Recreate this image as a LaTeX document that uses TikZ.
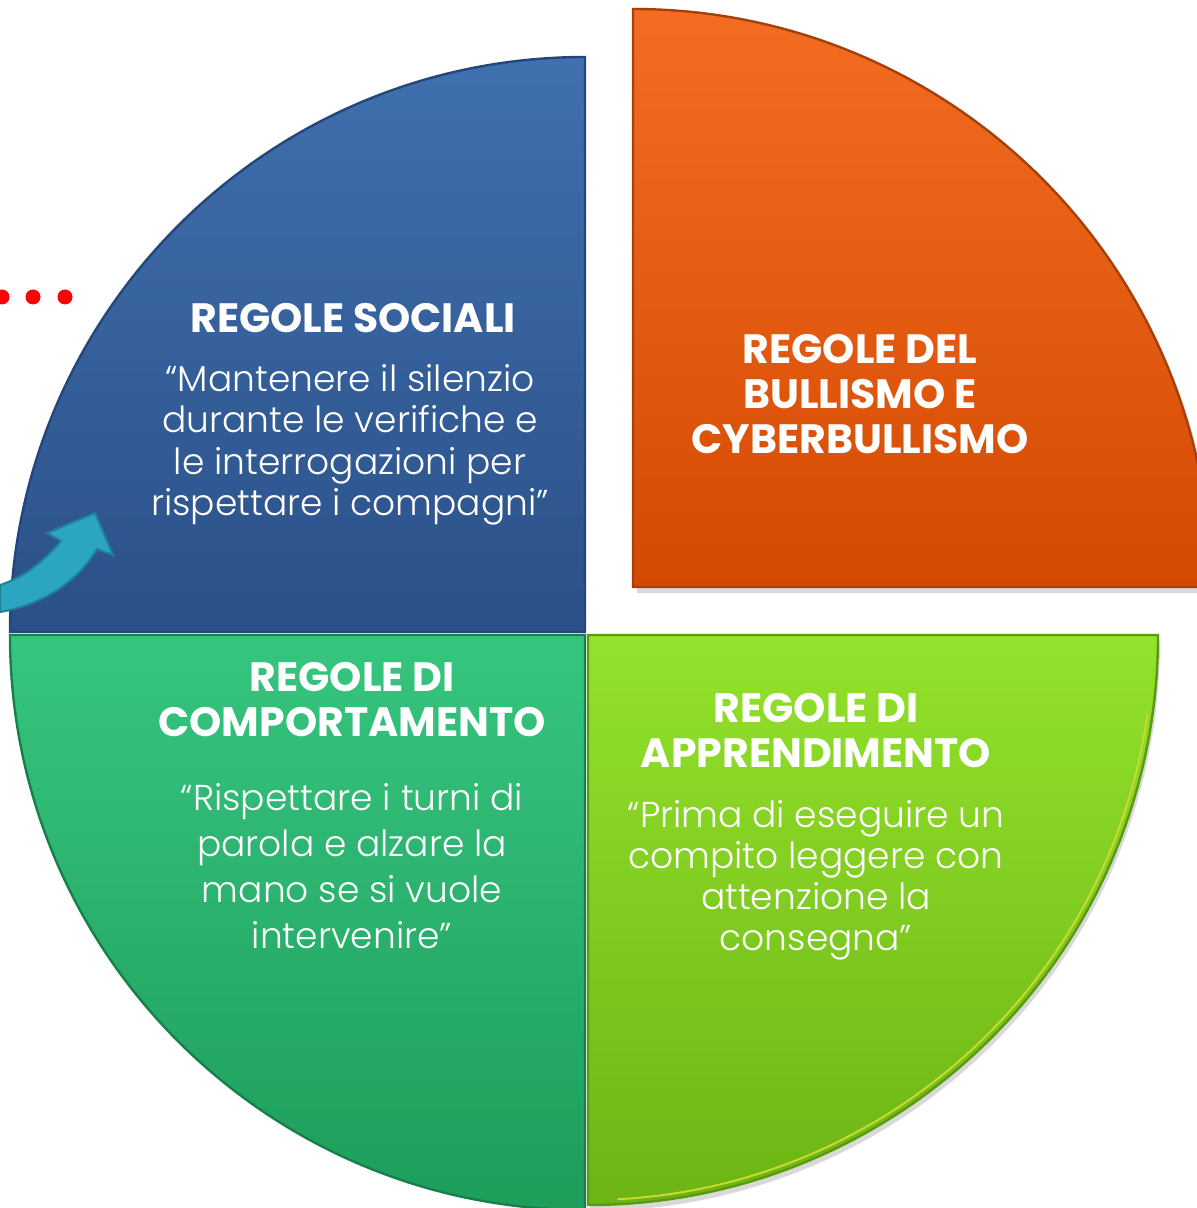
\documentclass[tikz,border=0pt]{standalone}
\usepackage{fontspec}
\setmainfont{Poppins}
\newfontfamily\quotefont{Poppins Light}[Ligatures=TeX]
\usetikzlibrary{shadows}
\definecolor{soctop}{HTML}{4070AE}
\definecolor{socbot}{HTML}{2B5088}
\definecolor{socline}{HTML}{25467A}
\definecolor{bultop}{HTML}{F46C22}
\definecolor{bulbot}{HTML}{D44A02}
\definecolor{bulline}{HTML}{A63F0A}
\definecolor{comtop}{HTML}{36C57F}
\definecolor{combot}{HTML}{1E9D5B}
\definecolor{comline}{HTML}{17804A}
\definecolor{apptop}{HTML}{93E22C}
\definecolor{appbot}{HTML}{6CB414}
\definecolor{appline}{HTML}{5A9A10}
\definecolor{arrowfill}{HTML}{2CA5C0}
\definecolor{arrowline}{HTML}{1F8199}

\begin{document}
\begin{tikzpicture}[x=0.5pt,y=-0.5pt,
  sector/.style={line width=1.2pt},
  title/.style={text=white,align=center,font=\bfseries\fontsize{20.5}{22.5}\selectfont},
  quote/.style={text=white,align=center,font=\quotefont\fontsize{18}{20.75}\selectfont}]
  \useasboundingbox (0,0) rectangle (1196,1208);
  % quadrants
  \draw[sector,draw=bulline,top color=bultop,bottom color=bulbot,
    drop shadow={shadow xshift=2pt,shadow yshift=-3pt,opacity=0.3}]
    (633,587) -- ++(0:578) arc[start angle=0,end angle=-90,radius=578] -- cycle;
  \draw[sector,draw=socline,top color=soctop,bottom color=socbot]
    (585,632) -- ++(180:575) arc[start angle=180,end angle=270,radius=575] -- cycle;
  \draw[sector,draw=comline,top color=comtop,bottom color=combot]
    (585,635) -- ++(180:575) arc[start angle=180,end angle=90,radius=575] -- cycle;
  \draw[sector,draw=appline,top color=apptop,bottom color=appbot,
    drop shadow={shadow xshift=1pt,shadow yshift=-3pt,opacity=0.3}]
    (588,635) -- ++(0:570) arc[start angle=0,end angle=90,radius=570] -- cycle;
  \draw[line width=1pt,draw=yellow!45!apptop] (588,635) ++(8:565) arc[start angle=8,end angle=87,radius=565];

  % dots and arrow
  \foreach \x in {2,33,65}
    \fill[red] (\x,297) circle (7.5);
  \draw[line width=1pt,draw=arrowline,fill=arrowfill]
    (0,585) .. controls (25,577) and (45,560) .. (61,541) -- (47,533) -- (95,513)
    -- (113,555) -- (97,549) .. controls (75,585) and (40,605) .. (0,612) -- cycle;

  \node (soc) at (353,318) [title] {REGOLE SOCIALI};
  \node (socq) at (350,445) [quote] {“Mantenere il silenzio\\durante le verifiche e\\le interrogazioni per\\rispettare i compagni”};
  \node (bul) at (860,394) [title] {REGOLE DEL\\BULLISMO E\\CYBERBULLISMO};
  \node (com) at (352,700) [title] {REGOLE DI\\COMPORTAMENTO};
  \node (comq) at (352,866) [quote,font=\quotefont\fontsize{18}{23}\selectfont] {“Rispettare i turni di\\parola e alzare la\\mano se si vuole\\intervenire”};
  \node (app) at (816,731) [title] {REGOLE DI\\APPRENDIMENTO};
  \node (appq) at (816,880) [quote,font=\quotefont\fontsize{18}{20.5}\selectfont] {“Prima di eseguire un\\compito leggere con\\attenzione la\\consegna”};
\end{tikzpicture}
\end{document}
